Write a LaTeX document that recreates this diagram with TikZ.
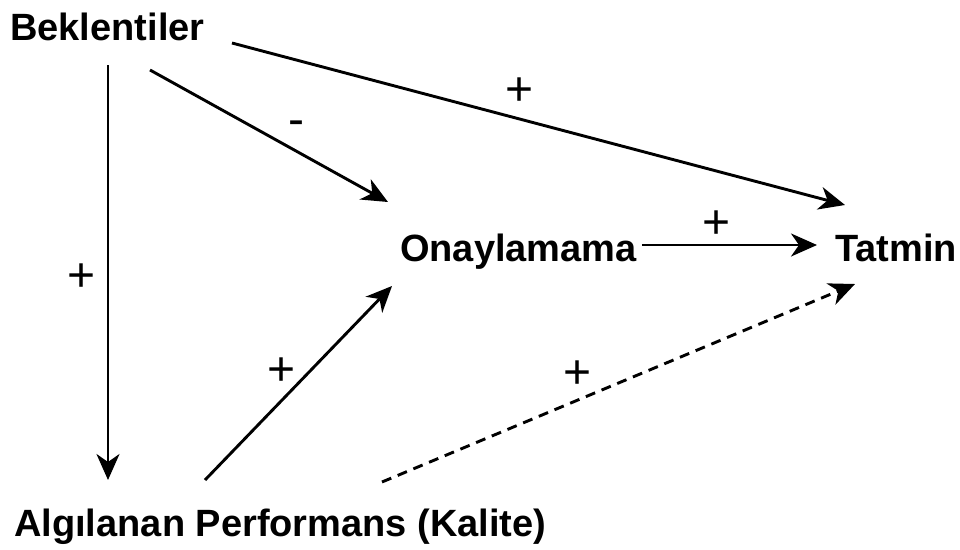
\documentclass[tikz,border=0pt]{standalone}
\usepackage{fontspec}
\setmainfont{Liberation Sans}
\usetikzlibrary{arrows.meta,calc}
\begin{document}
\begin{tikzpicture}[x=1pt,y=-1pt,
  concept/.style={inner sep=0pt,anchor=base west,font=\fontsize{38}{42}\selectfont\bfseries},
  sign/.style={inner sep=0pt,font=\fontsize{48}{52}\selectfont},
  link/.style={line width=2.9pt,-{Stealth[length=26pt,width=23pt,inset=8pt]}}]
  \useasboundingbox (0,0) rectangle (960,549);

  % concepts
  \node[concept] (bek) at (10,40) {Beklentiler};
  \node[concept] (ona) at (400,261) {Onaylamama};
  \node[concept] (tat) at (835,261) {Tatmin};
  \node[concept] (alg) at (14,536) {Algılanan Performans (Kalite)};

  % causal links
  \draw[link] ($(bek.base west)+(98,25)$) -- ($(alg.base west)+(94,-56)$);
  \draw[link] ($(bek.base west)+(140,30)$) -- ($(ona.base west)+(-12,-59)$);
  \draw[link] ($(bek.base west)+(222,3)$) -- ($(tat.base west)+(10,-56)$);
  \draw[link] ($(ona.base east)+(5,-16)$) -- ($(tat.base west)+(-18,-16)$);
  \draw[link] ($(alg.base west)+(191,-56)$) -- ($(ona.base west)+(-8,25)$);
  \draw[link,dashed,dash pattern=on 10pt off 7pt] ($(alg.base west)+(368,-54)$) -- ($(tat.base west)+(20,23)$);

  % signs
  \node[sign] (s1) at (82,278) {+};
  \node[sign] (s2) at (296,128) {-};
  \node[sign] (s3) at (520,92) {+};
  \node[sign] (s4) at (717,225) {+};
  \node[sign] (s5) at (282,372) {+};
  \node[sign] (s6) at (578,375) {+};
\end{tikzpicture}
\end{document}
